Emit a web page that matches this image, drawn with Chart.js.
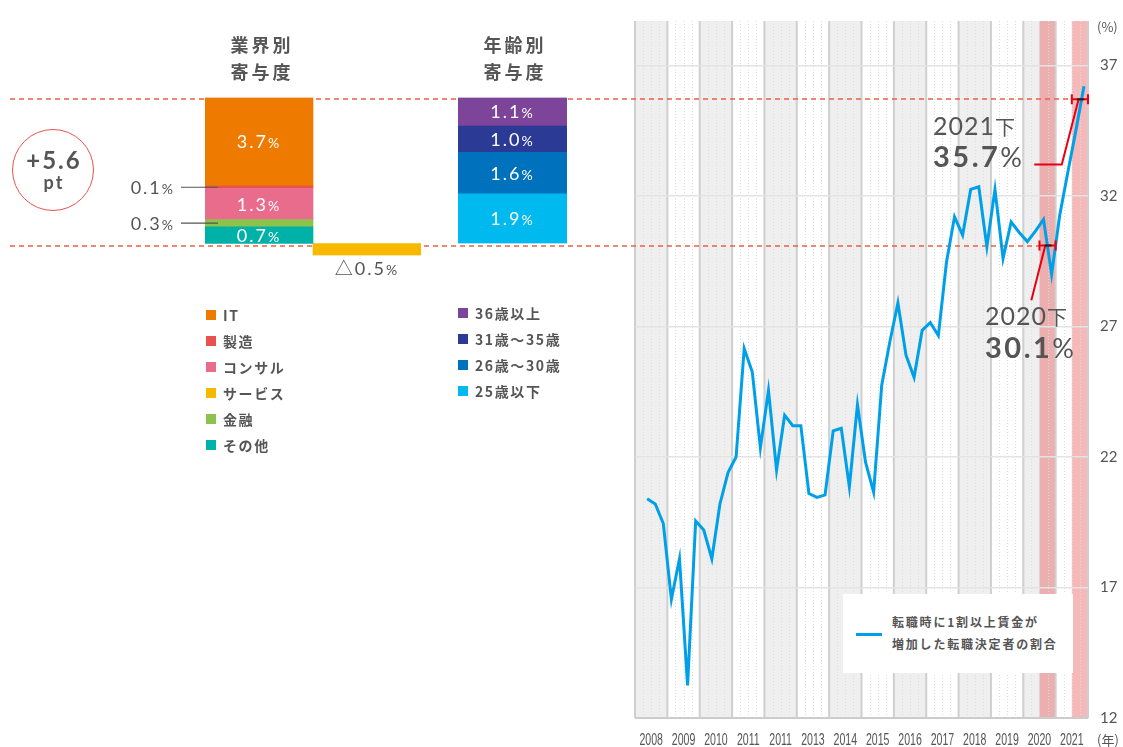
<!DOCTYPE html>
<html lang="ja">
<head>
<meta charset="utf-8">
<script src="https://cdn.jsdelivr.net/npm/chart.js@4.4.1/dist/chart.umd.min.js"></script>
<style>
  body { margin: 0; background: #fff; color: #555; font-family: "Noto Sans CJK JP", "Noto Sans", sans-serif; }
  #page { position: relative; width: 1123px; height: 747px; overflow: hidden; background: #fff; }
  canvas { position: absolute; top: 0; }
  #trend { left: 0; z-index: 0; }
  #industry { left: 100px; z-index: 1; }
  #age { left: 440px; z-index: 1; }
  .title { position: absolute; top: 31px; width: 130px; text-align: center; font-weight: 700; font-size: 18px;
           letter-spacing: 3px; padding-left: 3px; line-height: 27px; z-index: 2; }
  .legend { position: absolute; list-style: none; margin: 0; padding: 0; font-weight: 700; font-size: 14px;
            letter-spacing: 1.6px; z-index: 2; }
  .legend li { height: 26px; line-height: 26px; white-space: nowrap; }
  .legend i { display: inline-block; width: 10px; height: 10px; margin-right: 7px; vertical-align: middle;
              position: relative; top: -2px; }
  #total { position: absolute; left: 12px; top: 129px; width: 82px; height: 82px; box-sizing: border-box;
           border: 1.5px solid #e8524e; border-radius: 50%; text-align: center; font-family: Lato, sans-serif;
           font-weight: 700; z-index: 2; }
  #total .n { position: absolute; left: 0; right: 0; top: 17px; font-size: 24px; letter-spacing: 2px; line-height: 26px; padding-left: 2px; }
  #total .u { position: absolute; left: 0; right: 0; top: 42px; font-size: 18px; letter-spacing: 2px; line-height: 20px; padding-left: 2px; }
  .unit { position: absolute; font-size: 13px; z-index: 2; }
  #lineLegend { position: absolute; left: 843px; top: 594px; width: 230px; height: 79px; background: #fff; z-index: 2; }
  #lineLegend .swatch { position: absolute; left: 13px; top: 39px; width: 26px; height: 3px; background: #00a0e9; }
  #lineLegend .txt { position: absolute; left: 49px; top: 17px; font-size: 12px; font-weight: 700;
                     letter-spacing: 1.8px; line-height: 22px; white-space: nowrap; }
</style>
</head>
<body>
<div id="page">
  <canvas id="trend" width="1123" height="747"></canvas>
  <canvas id="industry" width="340" height="300"></canvas>
  <canvas id="age" width="160" height="300"></canvas>

  <div class="title" style="left:194px">業界別<br>寄与度</div>
  <div class="title" style="left:447px">年齢別<br>寄与度</div>
  <div id="total"><div class="n">+5.6</div><div class="u">pt</div></div>
  <ul class="legend" id="industryLegend" style="left:206px; top:302px"></ul>
  <ul class="legend" id="ageLegend" style="left:458px; top:300px"></ul>

  <div class="unit" style="left:1097px; top:17px">(%)</div>
  <div class="unit" style="left:1097px; top:730px">(年)</div>
  <div id="lineLegend"><span class="swatch"></span><div class="txt">転職時に1割以上賃金が<br>増加した転職決定者の割合</div></div>
</div>

<script>
// ---- data ----
const industryNames = ['IT', '製造', 'コンサル', 'サービス', '金融', 'その他'];
const industryValues = [3.7, 0.1, 1.3, -0.5, 0.3, 0.7];
const industryColors = ['#ef7a00', '#e8524e', '#ea6c8c', '#f6b900', '#8dc34a', '#00b1a7'];

const ageNames = ['36歳以上', '31歳～35歳', '26歳～30歳', '25歳以下'];
const ageValues = [1.1, 1.0, 1.6, 1.9];
const ageColors = ['#7c459a', '#2b3b95', '#0071bd', '#00b9ef'];

// half-year marks (下期): the start point and the latest one
const markYears = [2020, 2021];
const markLabels = ['2020下', '2021下'];
const markValues = [30.1, 35.7];

// quarterly series, starting 2008 Q2
const yearLabels = ['2008', '2009', '2010', '2011', '2011', '2013', '2014', '2015', '2016', '2017', '2018', '2019', '2020', '2021'];
const firstYear = 2008;
const firstQuarter = 2;
const rate = [
  20.4, 20.2, 19.45,
  16.55, 18.1, 13.25, 19.55,
  19.2, 18.1, 20.2, 21.4,
  22.0, 26.15, 25.25, 22.35,
  24.55, 21.5, 23.6, 23.2,
  23.2, 20.6, 20.45, 20.55,
  23.0, 23.1, 20.85, 24.0,
  21.8, 20.65, 24.75, 26.4,
  27.9, 25.9, 25.05, 26.85,
  27.15, 26.65, 29.45, 31.2,
  30.5, 32.25, 32.35, 30.05,
  32.25, 29.6, 31.0, 30.6,
  30.25, 30.65, 31.1, 29.0,
  31.25, 32.9, 34.5, 36.2
];
const yTicks = [12, 17, 22, 27, 32, 37];

const numFont = 'Lato, "Noto Sans CJK JP", sans-serif';
const baseRate = markValues[0];

// number with a smaller "%" after it
function drawPct(ctx, num, x, y, align, color, size = 18) {
  ctx.save();
  ctx.fillStyle = color;
  ctx.textBaseline = 'alphabetic';
  ctx.textAlign = 'left';
  ctx.letterSpacing = '2px';
  const big = `400 ${size}px ${numFont}`, small = `400 ${Math.round(size * 0.75)}px ${numFont}`;
  ctx.font = big;
  const w1 = ctx.measureText(num).width;
  ctx.font = small;
  const w2 = ctx.measureText('%').width;
  const w = w1 + w2;
  const x0 = align === 'center' ? x - w / 2 : align === 'right' ? x - w : x;
  const base = y + size * 0.36;
  ctx.font = big;
  ctx.fillText(num, x0, base);
  ctx.font = small;
  ctx.fillText('%', x0 + w1, base);
  ctx.restore();
}

const segmentLabels = {
  id: 'segmentLabels',
  afterDatasetsDraw(chart) {
    const ctx = chart.ctx;
    chart.data.datasets.forEach((ds, di) => {
      chart.getDatasetMeta(di).data.forEach((bar, j) => {
        if (ds.data[j] == null) return;
        const v = ds.value;
        const mid = (bar.y + bar.base) / 2;
        const left = bar.x - bar.width / 2;
        if (v < 0) {
          drawPct(ctx, '△' + Math.abs(v).toFixed(1), bar.x, Math.max(bar.y, bar.base) + 13, 'center', '#555');
        } else if (v < 0.5) {
          drawPct(ctx, v.toFixed(1), left - 30, mid, 'right', '#555');
          ctx.save();
          ctx.strokeStyle = '#555';
          ctx.lineWidth = 1.2;
          ctx.beginPath();
          ctx.moveTo(left - 24, mid);
          ctx.lineTo(left + 13, mid);
          ctx.stroke();
          ctx.restore();
        } else {
          drawPct(ctx, v.toFixed(1), bar.x, mid, 'center', '#fff');
        }
      });
    });
  }
};

// floating bars stacked from the 2020下 level; negatives go into their own column
function stackFrom(base, names, values, colors, columns) {
  let top = base, bottom = base;
  const sets = [];
  for (let i = names.length - 1; i >= 0; i--) {
    const v = values[i];
    const data = new Array(columns).fill(null);
    if (v >= 0) { data[0] = [top, top + v]; top += v; }
    else { data[1] = [bottom + v, bottom]; bottom += v; }
    sets.push({ label: names[i], data, value: v, backgroundColor: colors[i] });
  }
  return { sets, top, bottom };
}

function barOptions(padding, min, max) {
  return {
    responsive: false,
    animation: false,
    events: [],
    layout: { padding },
    plugins: { legend: { display: false }, tooltip: { enabled: false } },
    datasets: { bar: { grouped: false, categoryPercentage: 1, barPercentage: 1 } },
    scales: {
      x: { display: false },
      y: { display: false, min, max }
    }
  };
}

const ind = stackFrom(baseRate, industryNames, industryValues, industryColors, 2);
new Chart(document.getElementById('industry'), {
  type: 'bar',
  data: { labels: ['業界別', 'サービス'], datasets: ind.sets },
  options: barOptions({ left: 105, right: 19, top: 97.5, bottom: 44.5 }, ind.bottom, ind.top),
  plugins: [segmentLabels]
});

const age = stackFrom(baseRate, ageNames, ageValues, ageColors, 1);
new Chart(document.getElementById('age'), {
  type: 'bar',
  data: { labels: ['年齢別'], datasets: age.sets },
  options: barOptions({ left: 18, right: 33, top: 97.5, bottom: 56.6 }, age.bottom, age.top),
  plugins: [segmentLabels]
});

function fillLegend(id, names, colors) {
  document.getElementById(id).innerHTML = names
    .map((n, i) => `<li><i style="background:${colors[i]}"></i>${n}</li>`).join('');
}
fillLegend('industryLegend', industryNames, industryColors);
fillLegend('ageLegend', ageNames, ageColors);

// ---- trend chart ----
const points = rate.map((v, i) => ({ x: firstYear + (firstQuarter - 1 + i + 0.5) / 4, y: v }));

const backdrop = {
  id: 'backdrop',
  beforeDraw(chart) {
    const { ctx, chartArea: a, scales: { x } } = chart;
    const h = a.bottom - a.top;
    ctx.save();
    yearLabels.forEach((_, i) => {
      if (i % 2) return;
      const x0 = x.getPixelForValue(firstYear + i), x1 = x.getPixelForValue(firstYear + i + 1);
      ctx.fillStyle = '#efefef';
      ctx.fillRect(x0, a.top, x1 - x0, h);
    });
    markYears.forEach(yr => {
      const x0 = x.getPixelForValue(yr + 0.5), x1 = x.getPixelForValue(yr + 1);
      ctx.fillStyle = 'rgba(230, 80, 80, 0.4)';
      ctx.fillRect(x0, a.top, x1 - x0, h);
    });
    ctx.strokeStyle = '#dcdcdc';
    ctx.lineWidth = 1;
    ctx.setLineDash([1, 2]);
    for (let i = 0; i < yearLabels.length; i++) {
      for (let q = 1; q < 4; q++) {
        const px = Math.round(x.getPixelForValue(firstYear + i + q / 4)) + 0.5;
        ctx.beginPath();
        ctx.moveTo(px, a.top);
        ctx.lineTo(px, a.bottom);
        ctx.stroke();
      }
    }
    ctx.setLineDash([]);
    ctx.strokeStyle = '#cfcfcf';
    ctx.lineWidth = 2;
    for (let i = 0; i <= yearLabels.length; i++) {
      const px = x.getPixelForValue(firstYear + i);
      ctx.beginPath();
      ctx.moveTo(px, a.top);
      ctx.lineTo(px, a.bottom);
      ctx.stroke();
    }
    ctx.restore();
  },
  beforeDatasetsDraw(chart) {
    const { ctx, scales: { x, y } } = chart;
    ctx.save();
    ctx.strokeStyle = '#ec5f45';
    ctx.lineWidth = 1.5;
    ctx.setLineDash([5, 4]);
    markYears.forEach((yr, i) => {
      const py = Math.round(y.getPixelForValue(markValues[i]));
      ctx.beginPath();
      ctx.moveTo(10, py);
      ctx.lineTo(x.getPixelForValue(yr + 0.5), py);
      ctx.stroke();
    });
    ctx.restore();
  },
  afterDatasetsDraw(chart) {
    const { ctx, scales: { x, y } } = chart;
    ctx.save();
    // leader lines from the labels to the half-year marks
    const leaders = [
      [[2020.25, 28.0], [2020.68, 30.1]],
      [[2020.34, 33.2], [2021.19, 33.2], [2021.71, 35.7]]
    ];
    ctx.strokeStyle = '#e60012';
    ctx.lineWidth = 2;
    leaders.forEach(pts => {
      ctx.beginPath();
      pts.forEach(([vx, vy], k) => {
        const px = x.getPixelForValue(vx), py = y.getPixelForValue(vy);
        k ? ctx.lineTo(px, py) : ctx.moveTo(px, py);
      });
      ctx.stroke();
    });
    // half-year range bars
    markYears.forEach((yr, i) => {
      const py = y.getPixelForValue(markValues[i]);
      const x0 = x.getPixelForValue(yr + 0.5), x1 = x.getPixelForValue(yr + 1);
      const xm = (x0 + x1) / 2;
      ctx.strokeStyle = '#e60012';
      ctx.beginPath();
      ctx.moveTo(x0, py); ctx.lineTo(x1, py);
      ctx.moveTo(x0, py - 5); ctx.lineTo(x0, py + 5);
      ctx.moveTo(x1, py - 5); ctx.lineTo(x1, py + 5);
      ctx.stroke();
      ctx.strokeStyle = '#222';
      ctx.beginPath();
      ctx.moveTo(xm - 3, py); ctx.lineTo(xm + 4, py);
      ctx.stroke();
    });
    ctx.restore();
  },
  afterDraw(chart) {
    const { ctx, scales: { x } } = chart;
    ctx.save();
    // condensed year labels under each band
    ctx.fillStyle = '#555';
    ctx.textAlign = 'center';
    ctx.textBaseline = 'alphabetic';
    ctx.font = '400 16px "Liberation Sans", Arimo, sans-serif';
    x.ticks.forEach((t, i) => {
      ctx.save();
      ctx.translate(x.getPixelForValue(t.value), 745);
      ctx.scale(0.66, 1);
      ctx.fillText(yearLabels[i], 0, 0);
      ctx.restore();
    });
    // half-year annotations
    const spots = [[985, 325, 358.3], [933, 135, 167.3]];
    ctx.textAlign = 'left';
    markLabels.forEach((lab, i) => {
      const [lx, by1, by2] = spots[i];
      ctx.letterSpacing = '1px';
      ctx.font = `400 25px ${numFont}`;
      const yrTxt = lab.slice(0, 4);
      ctx.fillText(yrTxt, lx, by1);
      const w = ctx.measureText(yrTxt).width;
      ctx.font = '400 20px "Noto Sans CJK JP", sans-serif';
      ctx.fillText(lab.slice(4), lx + w, by1);
      ctx.letterSpacing = '2.5px';
      ctx.font = `700 29px ${numFont}`;
      const num = markValues[i].toFixed(1);
      ctx.fillText(num, lx, by2);
      const w2 = ctx.measureText(num).width;
      ctx.letterSpacing = '0px';
      ctx.font = `400 27px ${numFont}`;
      ctx.fillText('%', lx + w2, by2);
    });
    ctx.restore();
  }
};

new Chart(document.getElementById('trend'), {
  type: 'line',
  data: {
    datasets: [{
      label: '転職時に1割以上賃金が増加した転職決定者の割合',
      data: points,
      borderColor: '#00a0e9',
      borderWidth: 3,
      pointRadius: 0,
      tension: 0,
      fill: false
    }]
  },
  options: {
    responsive: false,
    animation: false,
    events: [],
    layout: { padding: { left: 635, top: 18, right: 0, bottom: 0 } },
    plugins: { legend: { display: false }, tooltip: { enabled: false } },
    scales: {
      x: {
        type: 'linear',
        min: firstYear,
        max: firstYear + yearLabels.length,
        grid: { display: false },
        border: { display: false },
        afterBuildTicks: s => { s.ticks = yearLabels.map((_, i) => ({ value: firstYear + i + 0.5 })); },
        afterFit: s => { s.height = 29; },
        ticks: { display: false, autoSkip: false, callback: (v, i) => yearLabels[i] }
      },
      y: {
        position: 'right',
        min: 12,
        max: 38.7,
        afterBuildTicks: s => { s.ticks = yTicks.map(v => ({ value: v })); },
        afterFit: s => { s.width = 35; },
        grid: {
          drawTicks: false,
          color: c => c.tick && c.tick.value === yTicks[0] ? '#cccccc' : '#e3e3e3',
          lineWidth: c => c.tick && c.tick.value === yTicks[0] ? 2 : 1.5
        },
        border: { display: false },
        ticks: { padding: 12, color: '#555', font: { family: numFont, size: 15 } }
      }
    }
  },
  plugins: [backdrop]
});
</script>
</body>
</html>
